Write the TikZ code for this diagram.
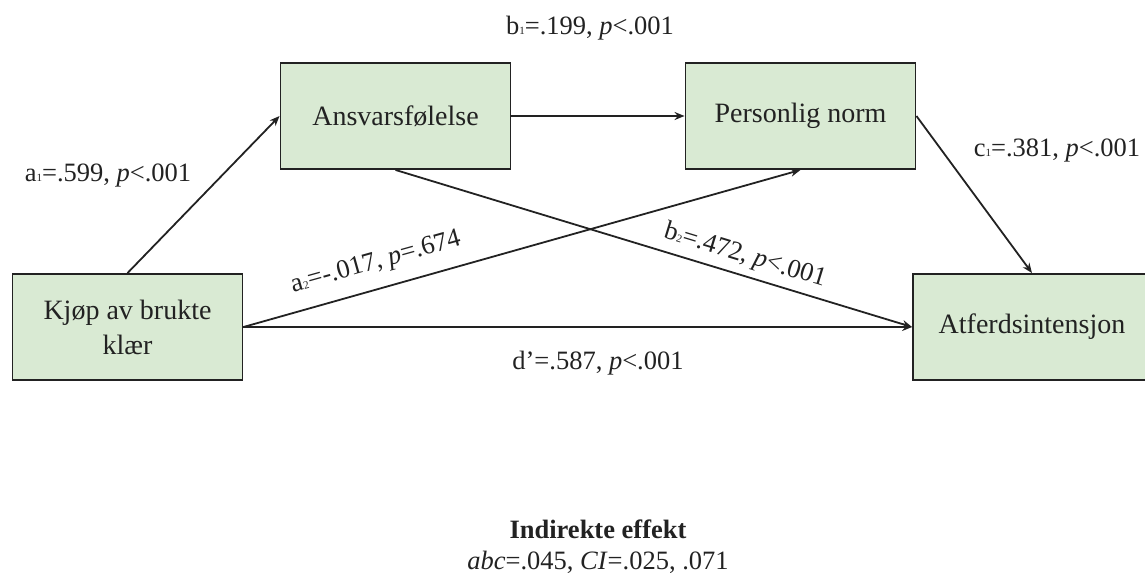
\documentclass[tikz,border=0pt]{standalone}
\usepackage{fontspec}
\setmainfont{Liberation Serif}
\usetikzlibrary{arrows.meta}
\definecolor{boxfill}{HTML}{D9EAD3}
\definecolor{ink}{HTML}{222222}
% tiny index digit used in the path labels
\newcommand{\idx}[1]{{\fontsize{11}{11}\selectfont #1}}
\begin{document}
\begin{tikzpicture}[x=1pt,y=-1pt,
  var/.style={draw=ink, line width=1.9pt, fill=boxfill, minimum width=230pt,
    minimum height=106pt, inner sep=0pt, align=center,
    font=\fontsize{28}{35}\selectfont, text=ink},
  link/.style={draw=ink, line width=1.8pt, -{Stealth[length=10pt,width=8pt]}},
  lbl/.style={font=\fontsize{26.5}{30}\selectfont, text=ink, inner sep=0pt}]
\useasboundingbox (0,0) rectangle (1145,573);
\clip (0,0) rectangle (1145,573);

% variables
\node[var] (k)   at (127.5,327)   {Kjøp av brukte\\klær};
\node[var] (ans) at (395.5,116)   {Ansvarsfølelse};
\node[var] (pn)  at (800.5,116)   {Personlig norm};
\node[var, minimum width=238pt] (atf) at (1032,327) {Atferdsintensjon};

% paths
\draw[link] (k.north) -- (ans.west);
\draw[link] (ans.east) -- (pn.west);
\draw[link] (pn.east) -- (atf.north);
\draw[link] (k.east) -- (pn.south);
\draw[link] (ans.south) -- (atf.west);
\draw[link] (k.east) -- (atf.west);

% coefficients
\node[lbl] (la1) at (108,176) {a\idx{1}=.599, \textit{p}<.001};
\node[lbl] (lb1) at (590,28) {b\idx{1}=.199, \textit{p}<.001};
\node[lbl] (lc1) at (1057,151) {c\idx{1}=.381, \textit{p}<.001};
\node[lbl] (ld)  at (598,363) {d’=.587, \textit{p}<.001};
\node[lbl, rotate=15.6] (la2) at (376,263) {a\idx{2}=-.017, \textit{p}=.674};
\node[lbl, rotate=-17] (lb2) at (745,256) {b\idx{2}=.472, \textit{p}<.001};

% indirect effect
\node[lbl, font=\fontsize{26.5}{30}\selectfont\bfseries] (ie) at (598,529) {Indirekte effekt};
\node[lbl] (iev) at (598,562) {\textit{abc}=.045, \textit{CI}=.025, .071};
\end{tikzpicture}
\end{document}
